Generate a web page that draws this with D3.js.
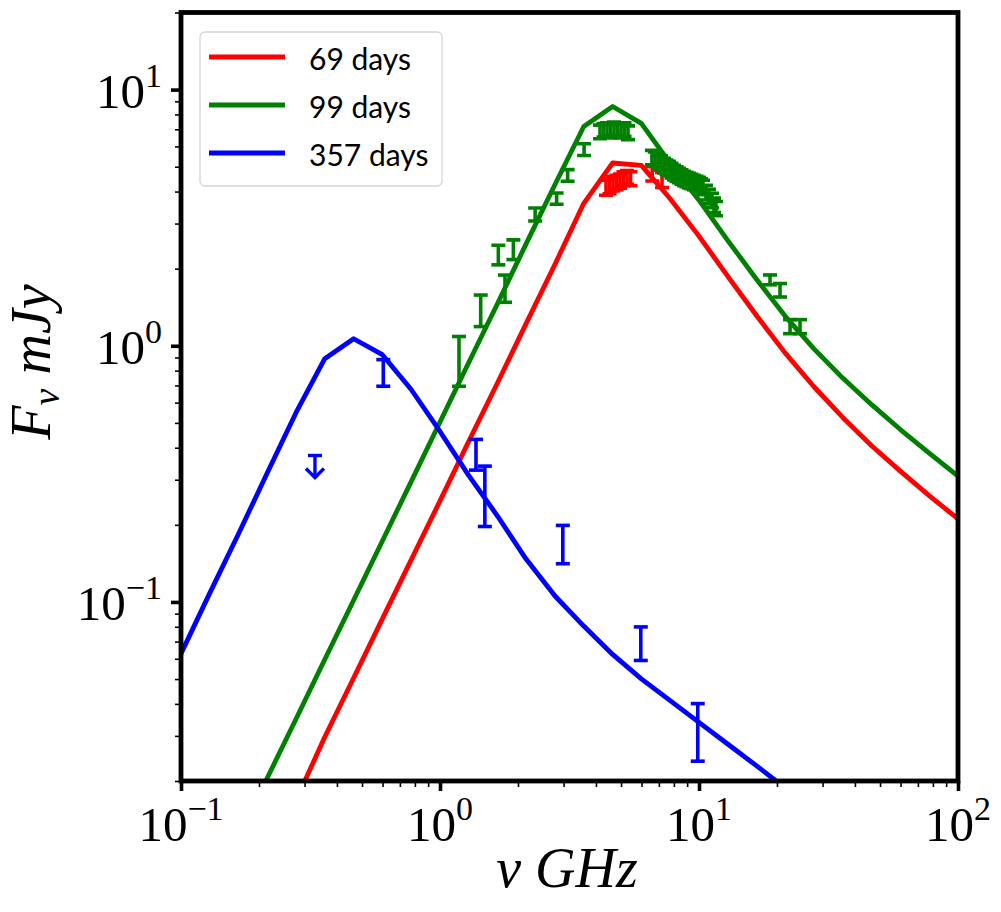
<!DOCTYPE html>
<html>
<head>
<meta charset="utf-8">
<script src="https://cdn.jsdelivr.net/npm/d3@7"></script>
<style>
  html, body { margin: 0; padding: 0; background: #fff; }
  svg { display: block; }
</style>
</head>
<body>
<svg id="chart" width="1001" height="912"></svg>
<script>
// ---------- data ----------
const modelNu = [0.1, 0.129, 0.167, 0.215, 0.278, 0.359, 0.464, 0.599, 0.774, 1.0, 1.29, 1.67, 2.15, 2.78, 3.59, 4.64, 5.99, 7.74, 10.0, 12.9, 16.7, 21.5, 27.8, 35.9, 46.4, 59.9, 77.4, 100];
const model69 = [null, null, null, 0.0103, 0.0168, 0.0297, 0.0505, 0.0859, 0.146, 0.248, 0.423, 0.719, 1.22, 2.08, 3.60, 5.17, 5.06, 3.75, 2.68, 1.87, 1.31, 0.938, 0.692, 0.525, 0.407, 0.324, 0.260, 0.211];
const model99 = [null, null, 0.012, 0.0205, 0.0349, 0.0596, 0.1016, 0.173, 0.295, 0.504, 0.859, 1.466, 2.50, 4.26, 7.18, 8.59, 7.38, 5.15, 3.70, 2.58, 1.815, 1.306, 0.973, 0.748, 0.589, 0.471, 0.381, 0.310];
const model357 = [0.0628, 0.108, 0.185, 0.318, 0.548, 0.890, 1.065, 0.923, 0.675, 0.463, 0.312, 0.216, 0.147, 0.1055, 0.0805, 0.0624, 0.0501, 0.0412, 0.0339, 0.0279, 0.0229, 0.0188, 0.0155, null, null, null, null, null];

const seriesNames = ["69 days", "99 days", "357 days"];
const seriesColors = ["#ff0000", "#008000", "#0000ff"];

const redNu   = [4.375, 4.514, 4.656, 4.804, 4.955, 5.111, 5.272, 5.439, 6.6, 7.2];
const redFlux = [4.15, 4.2, 4.3, 4.35, 4.4, 4.5, 4.55, 4.5, 4.7, 4.45];
const redErr  = [0.28, 0.28, 0.28, 0.28, 0.28, 0.28, 0.28, 0.28, 0.3, 0.3];

const greenNu   = [1.184, 1.436, 1.68, 1.782, 1.92, 2.33, 2.82, 3.11, 3.60,
                   4.148, 4.279, 4.415, 4.555, 4.698, 4.846, 4.999, 5.158, 5.320,
                   6.58, 6.76, 6.95, 7.13, 7.33, 7.49, 7.66, 7.83, 8.01, 8.19, 8.37, 8.56, 8.75, 8.95, 9.15, 9.35, 9.56, 9.78, 10.0, 10.18, 10.36, 10.64, 10.93, 11.22, 11.43, 11.63,
                   18.8, 20.55, 22.47, 24.55];
const greenFlux = [0.891, 1.383, 2.27, 1.683, 2.38, 3.26, 3.76, 4.63, 5.84,
                   6.85, 6.95, 7.0, 6.9, 7.05, 6.95, 6.9, 7.0, 6.8,
                   5.44, 5.37, 5.29, 5.18, 5.06, 4.99, 4.93, 4.84, 4.75, 4.69, 4.63, 4.57, 4.51, 4.47, 4.42, 4.39, 4.35, 4.31, 4.27, 4.21, 4.16, 3.97, 3.83, 3.70, 3.54, 3.44,
                   1.81, 1.65, 1.19, 1.19];
const greenErr  = [0.196, 0.195, 0.20, 0.205, 0.21, 0.19, 0.19, 0.24, 0.31,
                   0.42, 0.42, 0.42, 0.42, 0.42, 0.42, 0.42, 0.42, 0.42,
                   0.35, 0.345, 0.34, 0.335, 0.33, 0.325, 0.32, 0.315, 0.31, 0.305, 0.30, 0.295, 0.29, 0.29, 0.29, 0.285, 0.28, 0.28, 0.28, 0.275, 0.27, 0.26, 0.25, 0.24, 0.23, 0.22,
                   0.08, 0.10, 0.075, 0.075];

const blueNu   = [0.604, 1.377, 1.49, 2.98, 5.96, 9.89];
const blueFlux = [0.789, 0.379, 0.268, 0.170, 0.0695, 0.032];
const blueErr  = [0.094, 0.052, 0.071, 0.029, 0.0104, 0.0081];
const blueLimNu   = [0.329];
const blueLimFlux = [0.373];

const xMajorTicks = [0.1, 1, 10, 100];
const xMajorExp   = ["\u22121", "0", "1", "2"];
const yMajorTicks = [0.1, 1, 10];
const yMajorExp   = ["\u22121", "0", "1"];

// ---------- layout ----------
const L = 181, R = 958, T = 12.5, B = 781;
const svg = d3.select("#chart");
const x = d3.scaleLog().domain([0.1, 100]).range([L, R]);
const y = d3.scaleLog().domain([0.02, 20]).range([B, T]);

svg.append("defs").append("clipPath").attr("id", "clip")
  .append("rect").attr("x", L).attr("y", T).attr("width", R - L).attr("height", B - T);

// minor ticks
const xMinor = x.ticks().filter(v => !xMajorTicks.some(m => Math.abs(m - v) / m < 1e-6));
const yMinor = y.ticks().filter(v => !yMajorTicks.some(m => Math.abs(m - v) / m < 1e-6));

const gx = svg.append("g").attr("transform", `translate(0,${B})`);
gx.call(d3.axisBottom(x).tickValues(xMinor).tickSize(6).tickFormat(""));
gx.selectAll(".tick line").attr("stroke-width", 1.6);
const gx2 = svg.append("g").attr("transform", `translate(0,${B})`);
gx2.call(d3.axisBottom(x).tickValues(xMajorTicks).tickSize(10).tickFormat(""));
gx2.selectAll(".tick line").attr("stroke-width", 3.6);

const gy = svg.append("g").attr("transform", `translate(${L},0)`);
gy.call(d3.axisLeft(y).tickValues(yMinor).tickSize(6).tickFormat(""));
gy.selectAll(".tick line").attr("stroke-width", 1.6);
const gy2 = svg.append("g").attr("transform", `translate(${L},0)`);
gy2.call(d3.axisLeft(y).tickValues(yMajorTicks).tickSize(10).tickFormat(""));
gy2.selectAll(".tick line").attr("stroke-width", 3.6);
svg.selectAll(".domain").remove();

// tick labels
const tickFont = "'Liberation Serif', 'DejaVu Serif', serif";
xMajorTicks.forEach((v, i) => {
  const t = svg.append("text").attr("x", x(v)).attr("y", 841)
    .attr("text-anchor", "middle").attr("font-family", tickFont).attr("font-size", 49).attr("fill", "#000");
  t.append("tspan").text("10");
  t.append("tspan").attr("font-size", 34).attr("dy", -21).text(xMajorExp[i]);
});
yMajorTicks.forEach((v, i) => {
  const t = svg.append("text").attr("x", 162).attr("y", y(v) + 18)
    .attr("text-anchor", "end").attr("font-family", tickFont).attr("font-size", 49).attr("fill", "#000");
  t.append("tspan").text("10");
  t.append("tspan").attr("font-size", 34).attr("dy", -21).text(yMajorExp[i]);
});

// axis labels
const xl = svg.append("text").attr("x", 567).attr("y", 887).attr("text-anchor", "middle")
  .attr("font-family", tickFont).attr("font-style", "italic").attr("font-size", 56).attr("fill", "#000");
xl.append("tspan").text("\u03bd");
xl.append("tspan").attr("dx", 14).text("GHz");

const yl = svg.append("text").attr("transform", `translate(50,362) rotate(-90)`).attr("text-anchor", "middle")
  .attr("font-family", tickFont).attr("font-style", "italic").attr("font-size", 56).attr("fill", "#000");
yl.append("tspan").text("F");
yl.append("tspan").attr("font-size", 38).attr("dy", 9).text("\u03bd");
yl.append("tspan").attr("dy", -9).attr("dx", 14).text("mJy");

// model curves
const plot = svg.append("g").attr("clip-path", "url(#clip)");
const models = [model69, model99, model357];
const line = d3.line().defined(d => d[1] != null).x(d => x(d[0])).y(d => y(d[1]));
models.forEach((m, i) => {
  plot.append("path").datum(modelNu.map((n, k) => [n, m[k]]))
    .attr("d", line).attr("fill", "none").attr("stroke", seriesColors[i])
    .attr("stroke-width", 4.8).attr("stroke-linejoin", "round");
});

// error bars
function errorbars(nu, flux, err, color) {
  const g = plot.append("g").attr("stroke", color).attr("stroke-width", 3.6);
  nu.forEach((n, i) => {
    const cx = x(n), y1 = y(flux[i] + err[i]), y0 = y(flux[i] - err[i]);
    g.append("line").attr("x1", cx).attr("x2", cx).attr("y1", y1).attr("y2", y0);
    g.append("line").attr("x1", cx - 7).attr("x2", cx + 7).attr("y1", y1).attr("y2", y1);
    g.append("line").attr("x1", cx - 7).attr("x2", cx + 7).attr("y1", y0).attr("y2", y0);
  });
}
errorbars(redNu, redFlux, redErr, seriesColors[0]);
errorbars(greenNu, greenFlux, greenErr, seriesColors[1]);
errorbars(blueNu, blueFlux, blueErr, seriesColors[2]);

// upper limit
const ul = plot.append("g").attr("stroke", seriesColors[2]).attr("stroke-width", 3.4).attr("fill", "none");
blueLimNu.forEach((n, i) => {
  const cx = x(n), cy = y(blueLimFlux[i]);
  ul.append("line").attr("x1", cx - 7).attr("x2", cx + 7).attr("y1", cy).attr("y2", cy);
  ul.append("line").attr("x1", cx).attr("x2", cx).attr("y1", cy).attr("y2", cy + 22);
  ul.append("path").attr("d", `M${cx - 9},${cy + 13}L${cx},${cy + 22}L${cx + 9},${cy + 13}`);
});

// frame
svg.append("rect").attr("x", L).attr("y", T).attr("width", R - L).attr("height", B - T)
  .attr("fill", "none").attr("stroke", "#000").attr("stroke-width", 4.8);

// legend
const lg = svg.append("g");
lg.append("rect").attr("x", 200).attr("y", 32).attr("width", 242).attr("height", 154)
  .attr("rx", 5).attr("fill", "#fff").attr("fill-opacity", 0.8).attr("stroke", "#d6d6d6").attr("stroke-width", 1.3);
seriesNames.forEach((name, i) => {
  const ly = 57 + i * 48;
  lg.append("line").attr("x1", 209).attr("x2", 285).attr("y1", ly).attr("y2", ly)
    .attr("stroke", seriesColors[i]).attr("stroke-width", 4.8);
  lg.append("text").attr("x", 309).attr("y", ly + 12.5).attr("font-family", "Lato, 'Open Sans', sans-serif")
    .attr("font-size", 30).attr("fill", "#000").text(name);
});
</script>
</body>
</html>
